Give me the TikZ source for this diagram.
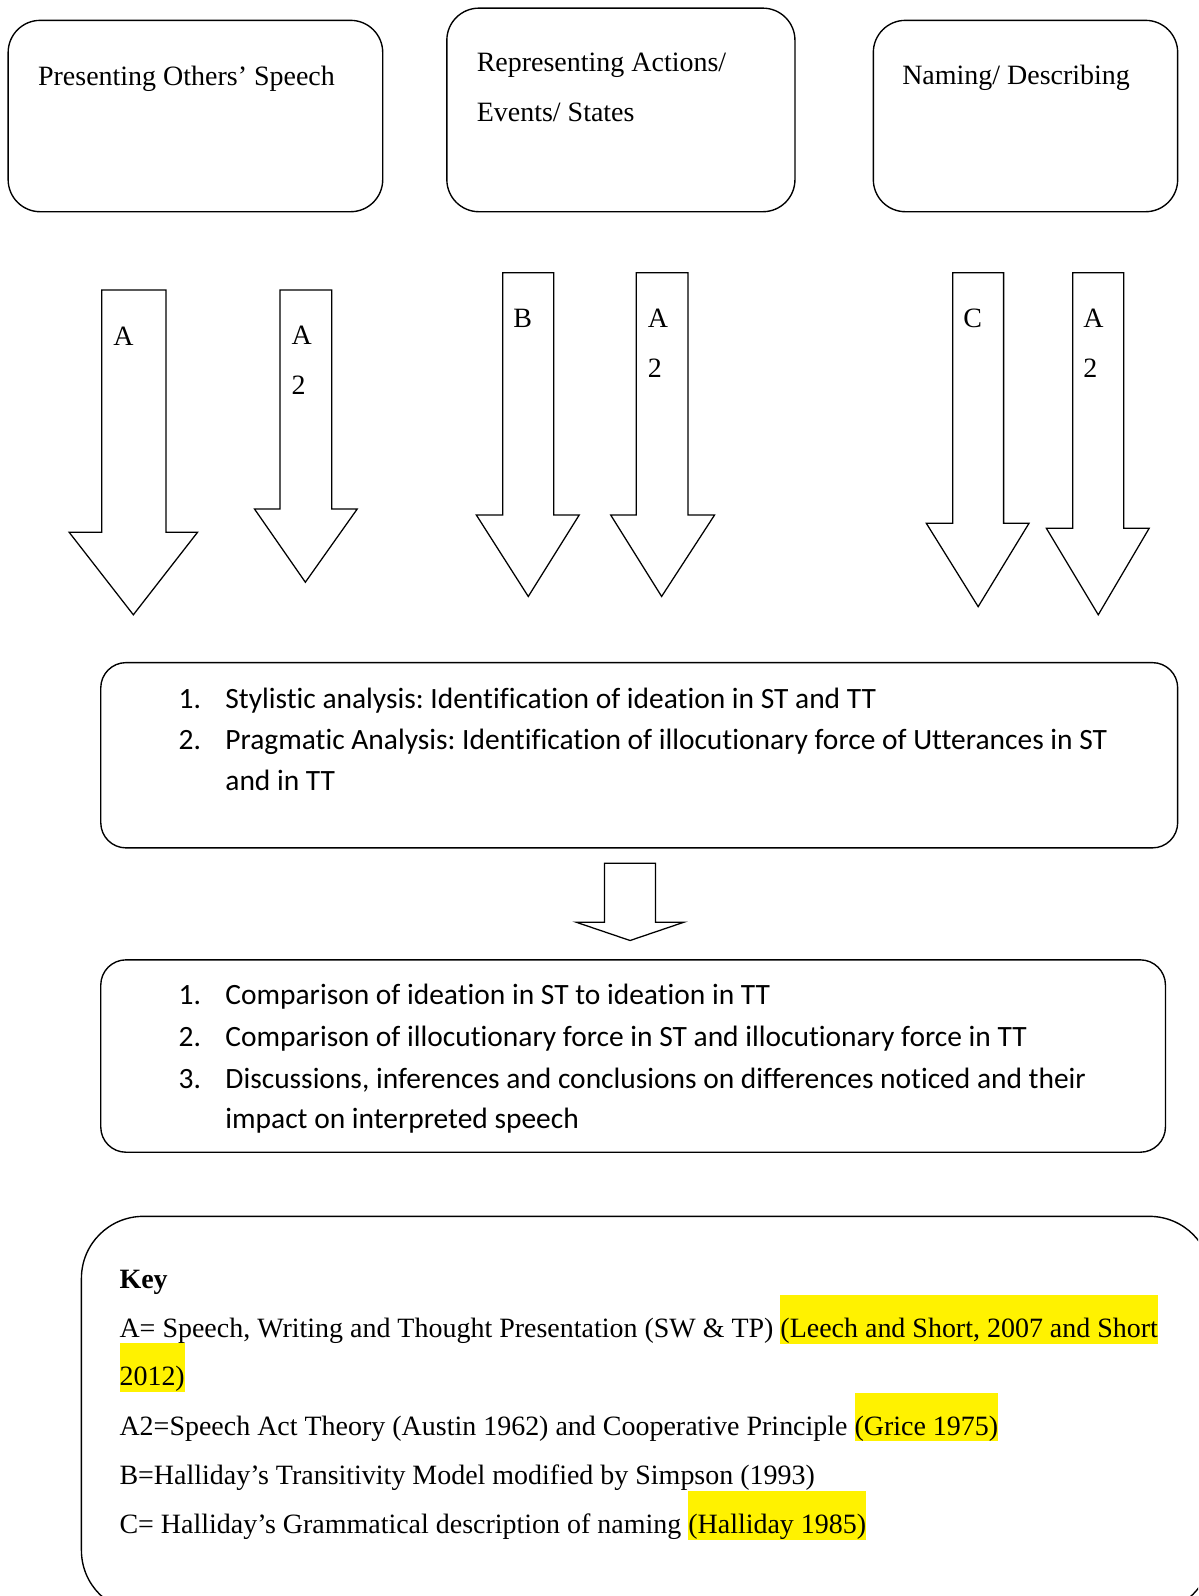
\documentclass[tikz,border=0pt]{standalone}
\usepackage{fontspec}
\setmainfont{Liberation Serif}
\newfontfamily\calibrifont[Ligatures=NoCommon]{Carlito}
\newcommand{\keyhl}[1]{{\setlength{\fboxsep}{0pt}\colorbox{yellow}{\rule[-2.7pt]{0pt}{21.3pt}#1}}}
\frenchspacing
\tikzset{
    roundbox/.style={draw, line width=0.6pt, rounded corners=14pt},
    blockarrow/.style={draw, line width=0.55pt, line join=miter, fill=white},
    serif/.style={font=\fontsize{12.2pt}{14pt}\selectfont, inner sep=0pt, anchor=base west},
    calibri/.style={font=\calibrifont\fontsize{12.85pt}{14pt}\selectfont, inner sep=0pt, anchor=base west}
}

\begin{document}
\begin{tikzpicture}[x=0.444pt, y=-0.444pt]
    \useasboundingbox (0,0) rectangle (1177,1568);

    % the three headings
    \draw[roundbox] (8,20) rectangle (376,208);
    \draw[roundbox] (439,8) rectangle (781,208);
    \draw[roundbox] (858,20) rectangle (1157,208);
    \node[serif] (pres) at (37,84) {Presenting Others’ Speech};
    \node[serif] (repra) at (468,70) {Representing Actions/};
    \node[serif] (reprb) at (468,119) {Events/ States};
    \node[serif] (naming) at (886,83) {Naming/ Describing};

    % block arrows
    \draw[blockarrow] (100,285) -- (163,285) -- (163,523) -- (194,523) -- (131,604) -- (68,523) -- (100,523) -- cycle;
    \draw[blockarrow] (275,285) -- (326,285) -- (326,500) -- (351,500) -- (300,572) -- (250,500) -- (275,500) -- cycle;
    \draw[blockarrow] (494,268) -- (544,268) -- (544,506) -- (569,506) -- (519,586) -- (468,506) -- (494,506) -- cycle;
    \draw[blockarrow] (625,268) -- (676,268) -- (676,506) -- (702,506) -- (650,586) -- (600,506) -- (625,506) -- cycle;
    \draw[blockarrow] (936,268) -- (986,268) -- (986,514) -- (1011,514) -- (961,596) -- (910,514) -- (936,514) -- cycle;
    \draw[blockarrow] (1054,268) -- (1104,268) -- (1104,519) -- (1129,519) -- (1079,604) -- (1028,519) -- (1054,519) -- cycle;

    \node[serif] (labA) at (111,339) {A};
    \node[serif] (labAAa) at (286,338) {A};
    \node[serif] (labAAb) at (286,388) {2};
    \node[serif] (labB) at (504,322) {B};
    \node[serif] (labBAa) at (636,322) {A};
    \node[serif] (labBAb) at (636,371) {2};
    \node[serif] (labC) at (946,322) {C};
    \node[serif] (labCAa) at (1064,322) {A};
    \node[serif] (labCAb) at (1064,371) {2};

    % analysis
    \draw[roundbox, rounded corners=11pt] (99,651) rectangle (1157,833);
    \node[calibri] (anaNa) at (175,696) {1.};
    \node[calibri] (anaa) at (221,696) {Stylistic analysis: Identification of ideation in ST and TT};
    \node[calibri] (anaNb) at (175,736.5) {2.};
    \node[calibri] (anab) at (221,736.5) {Pragmatic Analysis: Identification of illocutionary force of Utterances in ST};
    \node[calibri] (anac) at (221,777) {and in TT};

    \draw[blockarrow] (594,848) -- (644,848) -- (644,906) -- (672,906) -- (619,924) -- (566,906) -- (594,906) -- cycle;

    % comparison
    \draw[roundbox, rounded corners=11pt] (99,943) rectangle (1145,1132);
    \node[calibri] (cmpNa) at (175,987) {1.};
    \node[calibri] (cmpa) at (221,987) {Comparison of ideation in ST to ideation in TT};
    \node[calibri] (cmpNb) at (175,1028) {2.};
    \node[calibri] (cmpb) at (221,1028) {Comparison of illocutionary force in ST and illocutionary force in TT};
    \node[calibri] (cmpNc) at (175,1069) {3.};
    \node[calibri] (cmpc) at (221,1069) {Discussions, inferences and conclusions on differences noticed and their};
    \node[calibri] (cmpd) at (221,1109) {impact on interpreted speech};

    % key
    \begin{scope}
        \clip (0,0) rectangle (1177,1568);
        \draw[roundbox, rounded corners=27pt] (80,1195) rectangle (1190,1584);
    \end{scope}
    \node[serif, font=\fontsize{12.2pt}{14pt}\selectfont\bfseries] (key) at (117,1266) {Key};
    \node[serif] (keyA) at (117,1314) {A= Speech, Writing and Thought Presentation (SW \& TP) \keyhl{(Leech and Short, 2007 and Short}};
    \node[serif] (keyAcont) at (117,1361) {\keyhl{2012)}};
    \node[serif] (keyAA) at (117,1410) {A2=Speech Act Theory (Austin 1962) and Cooperative Principle \keyhl{(Grice 1975)}};
    \node[serif] (keyB) at (117,1458) {B=Halliday’s Transitivity Model modified by Simpson (1993)};
    \node[serif] (keyC) at (117,1507) {C= Halliday’s Grammatical description of naming \keyhl{(Halliday 1985)}};
\end{tikzpicture}
\end{document}
